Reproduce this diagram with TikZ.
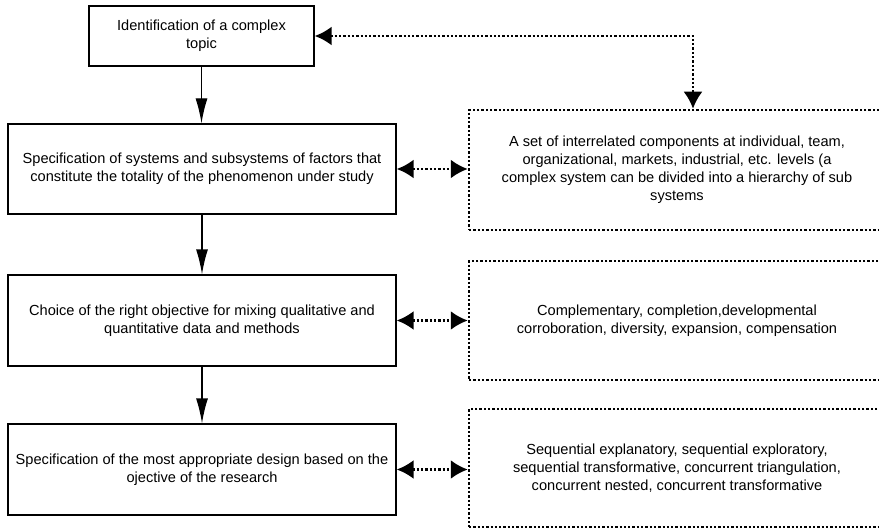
\documentclass[tikz,border=0pt]{standalone}
\usepackage{fontspec}
\setmainfont{Liberation Sans}
\usepackage{tikz}
\usetikzlibrary{arrows.meta,positioning}

\begin{document}
\begin{tikzpicture}[
  x=1pt,
  y=-1pt,
  every node/.style={align=center, font=\fontsize{14.6}{17.9}\selectfont, text=black},
  stepbox/.style={draw, line width=1.3pt, fill=white, inner sep=4pt},
  infobox/.style={draw, line width=2.5pt, dash pattern=on 2.3pt off 2pt, minimum width=416pt, inner sep=4pt},
  arr/.style={-{Latex[length=25pt,width=12pt]}, line width=1.3pt},
  dblarr/.style={{Latex[length=17pt,width=19pt]}-{Latex[length=17pt,width=19pt]}, line width=2.5pt, dash pattern=on 2.3pt off 2pt}
]
\clip (0,0) rectangle (879,532);

\node[stepbox, minimum width=225pt, minimum height=60pt] (topic) at (201.5,36)
  {Identification of a complex\\topic};
\node[stepbox, minimum width=388pt, minimum height=90pt] (systems) at (202,169)
  {Specification of systems and subsystems of factors that\\constitute the totality of the phenomenon under study};
\node[stepbox, minimum width=388pt, minimum height=91pt] (objective) at (202,320.5)
  {Choice of the right objective for mixing qualitative and\\quantitative data and methods};
\node[stepbox, minimum width=388pt, minimum height=91pt] (design) at (202,469.5)
  {Specification of the most appropriate design based on the\\ojective of the research};

\node[infobox, minimum height=120pt] (components) at (677,170)
  {A set of interrelated components at individual, team,\\organizational, markets, industrial, etc. levels (a\\complex system can be divided into a hierarchy of sub\\systems};
\node[infobox, minimum height=119pt] (purposes) at (677,320.5)
  {Complementary, completion,developmental\\corroboration, diversity, expansion, compensation};
\node[infobox, minimum height=118pt] (designs) at (677,468)
  {Sequential explanatory, sequential exploratory,\\sequential transformative, concurrent triangulation,\\concurrent nested, concurrent transformative};

\draw[arr] (topic) -- (systems.north -| topic);
\draw[arr] (systems) -- (objective);
\draw[arr] (objective) -- (design);

\draw[dblarr] (topic.east) -| ([xshift=16pt]components.north);
\draw[dblarr] (systems.east) -- (systems.east -| components.west);
\draw[dblarr] (objective.east) -- (objective.east -| purposes.west);
\draw[dblarr] (design.east) -- (design.east -| designs.west);
\end{tikzpicture}
\end{document}
